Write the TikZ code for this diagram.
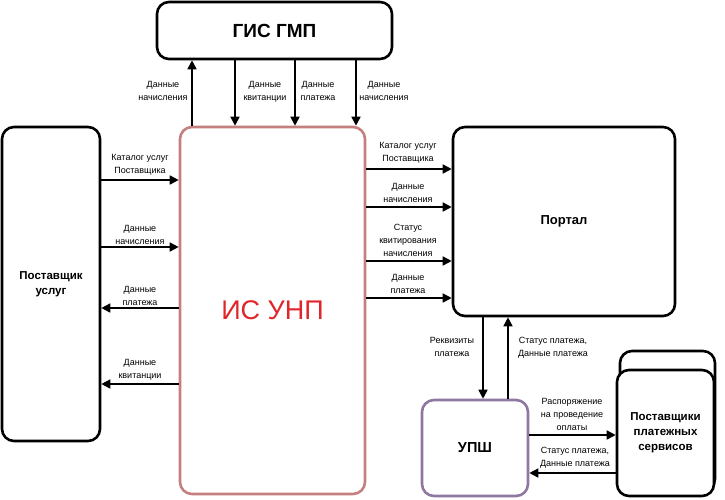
\documentclass[tikz,border=0pt]{standalone}
\usepackage{fontspec}
\setmainfont{Liberation Sans}
\usetikzlibrary{arrows.meta}
\definecolor{unpc}{HTML}{C4807E}
\definecolor{unpt}{HTML}{E0262A}
\definecolor{upshc}{HTML}{8E78A2}
\tikzset{
  box/.style={draw=black, line width=2.6pt, rounded corners=12pt, fill=white, font=\bfseries\fontsize{11.5}{15}\selectfont, align=center, inner sep=0pt},
  arr/.style={line width=1.6pt, -{Triangle[length=9pt,width=9pt]}},
  lbl/.style={font=\fontsize{9}{13}\selectfont, align=center, inner sep=0pt},
}
\begin{document}
\begin{tikzpicture}[x=1pt,y=-1pt]
\useasboundingbox (0,0) rectangle (725,499);
% boxes
\node[box, minimum width=235pt, minimum height=57pt, font=\bfseries\fontsize{19}{22}\selectfont] (gis) at (274.5,30.5) {ГИС ГМП};
\node[box, minimum width=98pt, minimum height=314pt] (post) at (51,284) {Поставщик\\услуг};
\node[box, draw=unpc, minimum width=185pt, minimum height=367pt, font=\fontsize{27}{30}\selectfont, text=unpt] (unp) at (272.5,310.5) {ИС УНП};
\node[box, minimum width=222pt, minimum height=189pt, font=\bfseries\fontsize{13}{15}\selectfont] (port) at (564,221.5) {Портал};
\node[box, draw=upshc, minimum width=106pt, minimum height=96pt, font=\bfseries\fontsize{14.5}{16}\selectfont] (upsh) at (475,448) {УПШ};
\node[box, minimum width=95pt, minimum height=140pt] (psback) at (667.5,421) {};
\node[box, minimum width=97pt, minimum height=126pt] (ps) at (665.5,433) {Поставщики\\платежных\\сервисов};
% coordinates for vertical connectors
\coordinate (v1) at (192,0);
\coordinate (v2) at (235,0);
\coordinate (v3) at (295,0);
\coordinate (v4) at (356,0);
\coordinate (v5) at (483,0);
\coordinate (v6) at (508,0);
% horizontal levels
\coordinate (h1) at (0,180);
\coordinate (h2) at (0,247);
\coordinate (h3) at (0,308);
\coordinate (h4) at (0,384);
\coordinate (r1) at (0,169);
\coordinate (r2) at (0,207);
\coordinate (r3) at (0,261);
\coordinate (r4) at (0,298);
\coordinate (b1) at (0,435);
\coordinate (b2) at (0,473);
% top
\draw[arr] (v1 |- unp.north) -- (v1 |- gis.south);
\draw[arr] (v2 |- gis.south) -- (v2 |- unp.north);
\draw[arr] (v3 |- gis.south) -- (v3 |- unp.north);
\draw[arr] (v4 |- gis.south) -- (v4 |- unp.north);
\node[lbl, anchor=north] (t1) at (163,81) {Данные\\начисления};
\node[lbl, anchor=north] (t2) at (265,81) {Данные\\квитанции};
\node[lbl, anchor=north] (t3) at (318,81) {Данные\\платежа};
\node[lbl, anchor=north] (t4) at (384,81) {Данные\\начисления};
% left
\draw[arr] (post.east |- h1) -- (unp.west |- h1);
\draw[arr] (post.east |- h2) -- (unp.west |- h2);
\draw[arr] (unp.west |- h3) -- (post.east |- h3);
\draw[arr] (unp.west |- h4) -- (post.east |- h4);
\node[lbl, anchor=south] (l1) at (140,175) {Каталог услуг\\Поставщика};
\node[lbl, anchor=south] (l2) at (140,245) {Данные\\начисления};
\node[lbl, anchor=south] (l3) at (140,306) {Данные\\платежа};
\node[lbl, anchor=south] (l4) at (140,380) {Данные\\квитанции};
% right
\draw[arr] (unp.east |- r1) -- (port.west |- r1);
\draw[arr] (unp.east |- r2) -- (port.west |- r2);
\draw[arr] (unp.east |- r3) -- (port.west |- r3);
\draw[arr] (unp.east |- r4) -- (port.west |- r4);
\node[lbl, anchor=south] (q1) at (408,163) {Каталог услуг\\Поставщика};
\node[lbl, anchor=south] (q2) at (408,203) {Данные\\начисления};
\node[lbl, anchor=south] (q3) at (408,257) {Статус\\квитирования\\начисления};
\node[lbl, anchor=south] (q4) at (408,294) {Данные\\платежа};
% portal <-> upsh
\draw[arr] (v5 |- port.south) -- (v5 |- upsh.north);
\draw[arr] (v6 |- upsh.north) -- (v6 |- port.south);
\node[lbl, anchor=north] (p1) at (452,337) {Реквизиты\\платежа};
\node[lbl, anchor=north] (p2) at (553,337) {Статус платежа,\\Данные платежа};
% upsh <-> ps
\draw[arr] (upsh.east |- b1) -- (ps.west |- b1);
\draw[arr] (ps.west |- b2) -- (upsh.east |- b2);
\node[lbl, anchor=south] (s1) at (572,431) {Распоряжение\\на проведение\\оплаты};
\node[lbl, anchor=south] (s2) at (575,468) {Статус платежа,\\Данные платежа};
\end{tikzpicture}
\end{document}
